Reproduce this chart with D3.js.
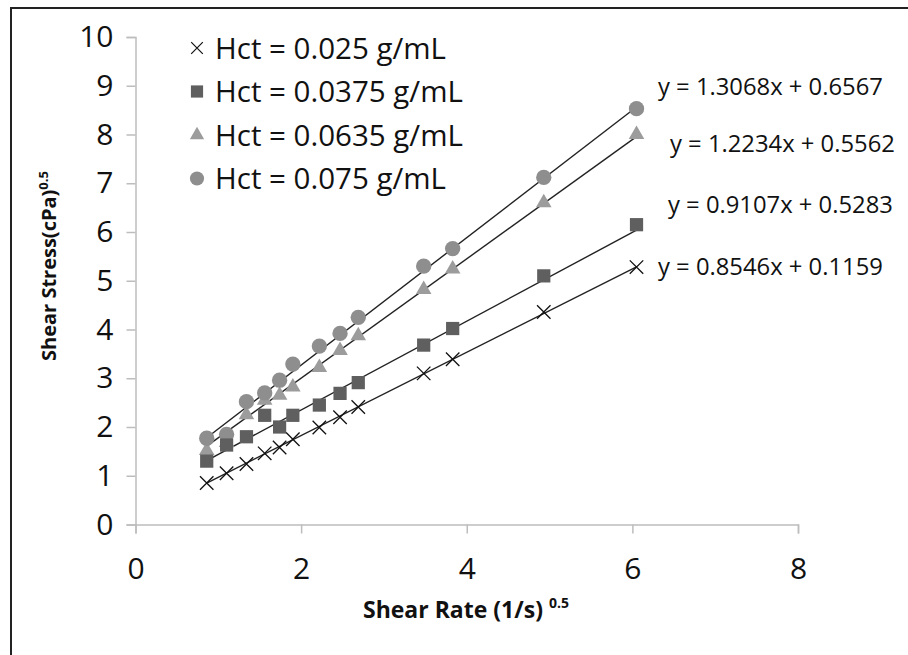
<!DOCTYPE html>
<html>
<head>
<meta charset="utf-8">
<script src="https://cdn.jsdelivr.net/npm/d3@7"></script>
<style>
  html, body { margin: 0; padding: 0; background: #fff; }
  svg { display: block; font-family: "Open Sans", sans-serif; }
</style>
</head>
<body>
<script>
// shear rate^0.5, shared by all four runs
const shearRate = [0.86, 1.10, 1.34, 1.56, 1.74, 1.90, 2.22, 2.47, 2.69, 3.48, 3.83, 4.93, 6.05];

const hct025 = [0.85, 1.05, 1.24, 1.46, 1.58, 1.75, 1.99, 2.20, 2.41, 3.10, 3.39, 4.36, 5.28];
const hct0375 = [1.30, 1.63, 1.80, 2.24, 2.00, 2.24, 2.45, 2.69, 2.91, 3.68, 4.02, 5.10, 6.15];
const hct0635 = [1.52, 1.68, 2.25, 2.55, 2.65, 2.82, 3.22, 3.57, 3.87, 4.82, 5.24, 6.60, 8.00];
const hct075 = [1.77, 1.85, 2.52, 2.70, 2.96, 3.29, 3.66, 3.92, 4.25, 5.30, 5.66, 7.12, 8.53];

const seriesNames = ["Hct = 0.025 g/mL", "Hct = 0.0375 g/mL", "Hct = 0.0635 g/mL", "Hct = 0.075 g/mL"];
const slopes = [0.8546, 0.9107, 1.2234, 1.3068];
const intercepts = [0.1159, 0.5283, 0.5562, 0.6567];
const equations = ["y = 0.8546x + 0.1159", "y = 0.9107x + 0.5283", "y = 1.2234x + 0.5562", "y = 1.3068x + 0.6567"];

const xTicks = [0, 2, 4, 6, 8];
const yTicks = [0, 1, 2, 3, 4, 5, 6, 7, 8, 9, 10];

const width = 908;
const height = 655;

const svg = d3.select("body").append("svg")
    .attr("width", width)
    .attr("height", height);

// outer frame (runs off the right and bottom of the picture)
svg.append("rect")
    .attr("x", 11)
    .attr("y", 8)
    .attr("width", 1000)
    .attr("height", 1000)
    .attr("fill", "none")
    .attr("stroke", "#222")
    .attr("stroke-width", 2);

const xScale = d3.scaleLinear().domain([0, 8]).range([135.5, 798]);
const yScale = d3.scaleLinear().domain([0, 10]).range([524.5, 37]);

const xAxis = d3.axisBottom(xScale).tickValues(xTicks).tickSize(9).tickPadding(24).tickSizeOuter(9);
const yAxis = d3.axisLeft(yScale).tickValues(yTicks).tickSize(9).tickPadding(13).tickSizeOuter(9);

const gx = svg.append("g")
    .attr("transform", `translate(0, ${yScale(0)})`)
    .call(xAxis);

const gy = svg.append("g")
    .attr("transform", `translate(${xScale(0)}, 0)`)
    .call(yAxis);

[gx, gy].forEach(g => {
    g.selectAll("path, line").attr("stroke", "#bdbdbd").attr("stroke-width", 1.5);
    g.selectAll("text")
        .attr("fill", "#111")
        .style("font-size", "30px")
        .style("font-family", "Open Sans");
});

// axis titles
const yTitle = svg.append("text")
    .attr("transform", "translate(56, 266) rotate(-90)")
    .attr("text-anchor", "middle")
    .style("font-size", "20px")
    .style("font-weight", "bold")
    .attr("fill", "#111");
yTitle.append("tspan").text("Shear Stress(cPa)");
yTitle.append("tspan").attr("dy", -8).style("font-size", "13px").text("0.5");

const xTitle = svg.append("text")
    .attr("x", 466)
    .attr("y", 618)
    .attr("text-anchor", "middle")
    .style("font-size", "23px")
    .style("font-weight", "bold")
    .attr("fill", "#111");
xTitle.append("tspan").text("Shear Rate (1/s) ");
xTitle.append("tspan").attr("dy", -10).style("font-size", "14px").text("0.5");

// trendlines over the data range
const xMin = d3.min(shearRate);
const xMax = d3.max(shearRate);
svg.append("g")
    .selectAll("line")
    .data(slopes)
    .enter()
    .append("line")
    .attr("x1", xScale(xMin))
    .attr("x2", xScale(xMax))
    .attr("y1", (d, i) => yScale(d * xMin + intercepts[i]))
    .attr("y2", (d, i) => yScale(d * xMax + intercepts[i]))
    .attr("stroke", "#222")
    .attr("stroke-width", 1.4);

// markers
const markerStyles = [
    { type: d3.symbolTimes, size: 120, fill: "none", stroke: "#111" },
    { type: d3.symbolSquare, size: 175, fill: "#5f5f5f", stroke: "none" },
    { type: d3.symbolTriangle, size: 105, fill: "#9c9c9c", stroke: "none" },
    { type: d3.symbolCircle, size: 185, fill: "#8e8e8e", stroke: "none" }
];
const seriesValues = [hct025, hct0375, hct0635, hct075];

// draw triangles and circles first, then squares, crosses on top
[2, 3, 1, 0].forEach(s => {
    const st = markerStyles[s];
    svg.append("g")
        .selectAll("path")
        .data(seriesValues[s])
        .enter()
        .append("path")
        .attr("d", d3.symbol(st.type, st.size))
        .attr("transform", (d, i) => `translate(${xScale(shearRate[i])}, ${yScale(d)})`)
        .attr("fill", st.fill)
        .attr("stroke", st.stroke)
        .attr("stroke-width", 1.3);
});

// legend
const legend = svg.append("g");
seriesNames.forEach((name, i) => {
    const cy = 48 + i * 43.5;
    const st = markerStyles[i];
    legend.append("path")
        .attr("d", d3.symbol(st.type, i === 0 ? 90 : st.size * 0.85))
        .attr("transform", `translate(197, ${cy})`)
        .attr("fill", st.fill)
        .attr("stroke", st.stroke)
        .attr("stroke-width", 1.2);
    legend.append("text")
        .attr("x", 215)
        .attr("y", cy)
        .attr("dy", "0.36em")
        .style("font-size", "29.5px")
        .attr("fill", "#111")
        .text(name);
});

// trendline equations
const eqPos = [[658, 275], [668, 213], [670, 152], [658, 95]];
svg.append("g")
    .selectAll("text")
    .data(equations)
    .enter()
    .append("text")
    .attr("x", (d, i) => eqPos[i][0])
    .attr("y", (d, i) => eqPos[i][1])
    .style("font-size", "23.8px")
    .attr("fill", "#111")
    .text(d => d);
</script>
</body>
</html>
